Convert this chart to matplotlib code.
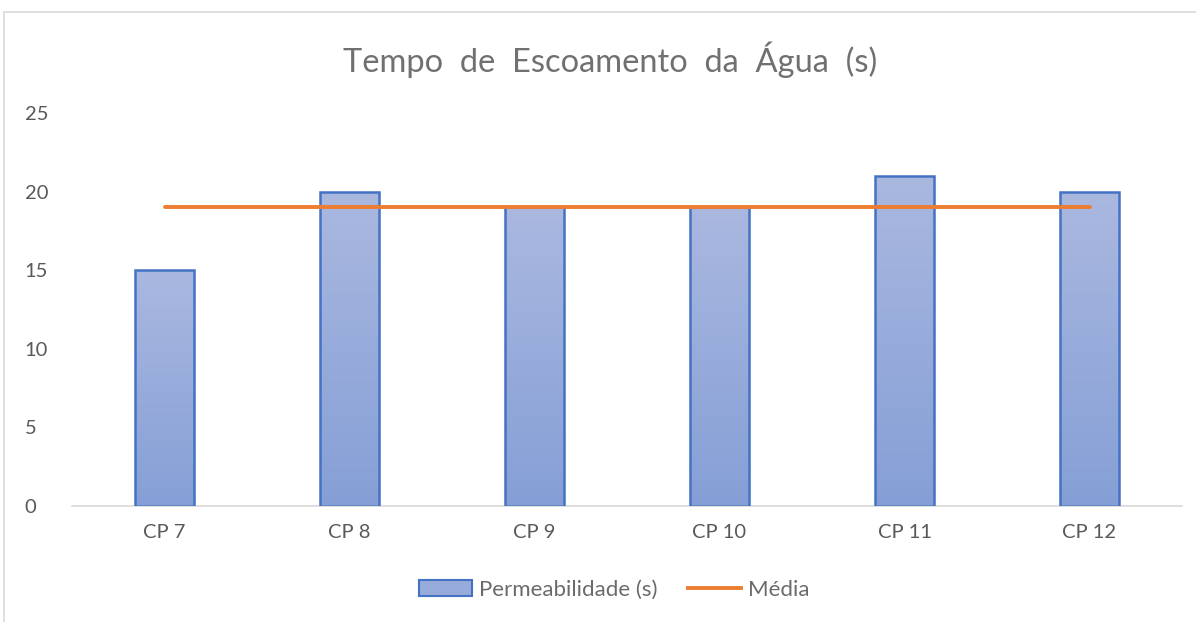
import matplotlib
matplotlib.use("Agg")
import matplotlib.pyplot as plt
import numpy as np
from matplotlib.patches import Rectangle
from matplotlib.lines import Line2D
from matplotlib.colors import LinearSegmentedColormap

categories = ["CP 7", "CP 8", "CP 9", "CP 10", "CP 11", "CP 12"]
permeabilidade = [15, 20, 19, 19, 21, 20]
media = [19, 19, 19, 19, 19, 19]
yticks = [0, 5, 10, 15, 20, 25]

plt.rcParams['font.family'] = ['Lato', 'DejaVu Sans']
gray = '#595959'

W, H = 1196, 622
fig = plt.figure(figsize=(W/100, H/100), dpi=100)
fig.patch.set_facecolor('white')

# outer chart border
fig.add_artist(Rectangle((4/W, -0.1), 1.2, 1 - 12/H + 0.1, transform=fig.transFigure,
                         fill=False, edgecolor='#D9D9D9', linewidth=1.2))

ax = fig.add_axes([72/W, 1 - 506/H, (1182-72)/W, (506-113)/H])
x = np.arange(len(categories))
bw = 0.32
bars = ax.bar(x, permeabilidade, width=bw, color='none', edgecolor='#4472C4', linewidth=1.8, zorder=3)

grad = np.linspace(0, 1, 256).reshape(-1, 1)
cmap = LinearSegmentedColormap.from_list('g', ['#859FD6', '#AAB8E0'])
for b in bars:
    x0, y0 = b.get_x(), b.get_y()
    w, h = b.get_width(), b.get_height()
    im = ax.imshow(grad, extent=[x0, x0 + w, y0, y0 + h], origin='lower', cmap=cmap,
                   aspect='auto', zorder=2)
    im.set_clip_path(b)

ax.plot(x, media, color='#ED7D31', linewidth=2.8, solid_capstyle='round', zorder=4)

ax.set_xlim(-0.5, len(categories) - 0.5)
ax.set_ylim(0, 25)
ax.set_yticks(yticks)
ax.set_xticks(x)
ax.set_xticklabels(categories)
for s in ['top', 'right', 'left']:
    ax.spines[s].set_visible(False)
ax.spines['bottom'].set_color('#D9D9D9')
ax.spines['bottom'].set_linewidth(1.2)
ax.tick_params(axis='both', length=0, colors=gray, labelsize=14.5)
ax.tick_params(axis='x', pad=13)
ax.tick_params(axis='y', pad=34)
for lbl in ax.get_yticklabels():
    lbl.set_horizontalalignment('left')
ax.set_facecolor('none')

fig.text(610/W, 1 - 60/H, "Tempo  de  Escoamento  da  Água  (s)", ha='center', va='center',
         fontsize=23.5, color='#707070')

handles = [Rectangle((0, 0), 1, 1, facecolor='#98ACDC', edgecolor='#4472C4', linewidth=1.5),
           Line2D([0], [0], color='#ED7D31', linewidth=2.8)]
fig.legend(handles, ["Permeabilidade (s)", "Média"], loc='center', bbox_to_anchor=(614/W, 1 - 590/H),
           ncol=2, frameon=False, fontsize=16, labelcolor='#6b6b6b', handlelength=2.4,
           handletextpad=0.3, columnspacing=1.35)

fig.savefig('out.png', dpi=100, facecolor='white')
